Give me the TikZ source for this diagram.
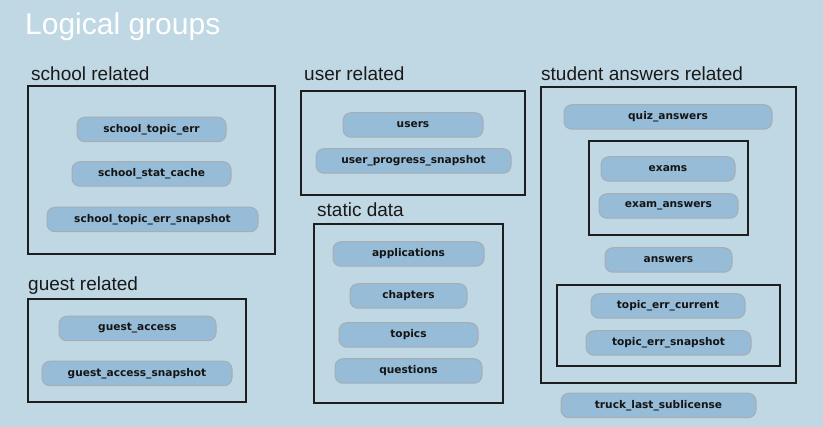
\documentclass[tikz,border=0pt]{standalone}
\usepackage{fontspec}
\setmainfont{Liberation Sans}
\newfontfamily\pillfont{DejaVu Sans}
\definecolor{bgc}{HTML}{C0D8E4}
\definecolor{pillfill}{HTML}{96BCD8}
\definecolor{pilldraw}{HTML}{A6ADB3}
\definecolor{boxline}{HTML}{1E1E1E}
\tikzset{
  pill/.style={rounded corners=8pt, fill=pillfill, draw=pilldraw, line width=1pt,
    inner sep=0pt, minimum height=24.5pt, font=\pillfont\bfseries\fontsize{10.6}{12}\selectfont, text=black!92},
  grp/.style={draw=boxline, line width=1.2pt, inner sep=0pt},
  grplabel/.style={anchor=base west, inner sep=0pt, font=\fontsize{19}{22}\selectfont, text=black!90},
}
\begin{document}
\begin{tikzpicture}[x=1pt,y=-1pt]
\fill[bgc] (0,0) rectangle (823,427);
\useasboundingbox (0,0) rectangle (823,427);
\node[anchor=base west, inner sep=0pt, text=white, font=\fontsize{30}{34}\selectfont] (title) at (25,35) {Logical groups};

% school related
\node[grplabel] (lschool) at (31,81) {school related};
\node[grp, minimum width=247pt, minimum height=168pt] (bschool) at (151.5,170) {};
\node[pill, minimum width=149pt] (ste) at (151.5,129.5) {school\_topic\_err};
\node[pill, minimum width=159pt] (ssc) at (151.5,174) {school\_stat\_cache};
\node[pill, minimum width=211pt] (stes) at (152.5,219.5) {school\_topic\_err\_snapshot};

% guest related
\node[grplabel] (lguest) at (28,291) {guest related};
\node[grp, minimum width=218pt, minimum height=103pt] (bguest) at (137,350.5) {};
\node[pill, minimum width=157pt] (ga) at (137.5,328.5) {guest\_access};
\node[pill, minimum width=190pt] (gas) at (137,373.5) {guest\_access\_snapshot};

% user related
\node[grplabel] (luser) at (304,81) {user related};
\node[grp, minimum width=224pt, minimum height=104pt] (buser) at (413,143) {};
\node[pill, minimum width=140pt] (users) at (413,125) {users};
\node[pill, minimum width=195pt] (ups) at (413.5,161) {user\_progress\_snapshot};

% static data
\node[grplabel] (lstatic) at (317,217) {static data};
\node[grp, minimum width=189pt, minimum height=179pt] (bstatic) at (408.5,313.5) {};
\node[pill, minimum width=151pt] (app) at (408.5,254) {applications};
\node[pill, minimum width=117pt] (chap) at (408.5,296) {chapters};
\node[pill, minimum width=139pt] (top) at (408.5,335) {topics};
\node[pill, minimum width=147pt] (ques) at (408.5,371) {questions};

% student answers related
\node[grplabel] (lstudent) at (541,81) {student answers related};
\node[grp, minimum width=255pt, minimum height=296pt] (bstudent) at (668.5,235) {};
\node[pill, minimum width=208pt] (qa) at (668,117) {quiz\_answers};
\node[grp, minimum width=159pt, minimum height=94pt] (bexam) at (668.5,188) {};
\node[pill, minimum width=134pt] (exams) at (668,169) {exams};
\node[pill, minimum width=139pt] (ea) at (668.5,206) {exam\_answers};
\node[pill, minimum width=127pt] (ans) at (668.5,260) {answers};
\node[grp, minimum width=223pt, minimum height=81pt] (btopic) at (668.5,325.5) {};
\node[pill, minimum width=154pt] (tec) at (668,306) {topic\_err\_current};
\node[pill, minimum width=165pt] (tes) at (668.5,343) {topic\_err\_snapshot};
\node[pill, minimum width=195pt] (tls) at (658.5,405.5) {truck\_last\_sublicense};
\end{tikzpicture}
\end{document}
